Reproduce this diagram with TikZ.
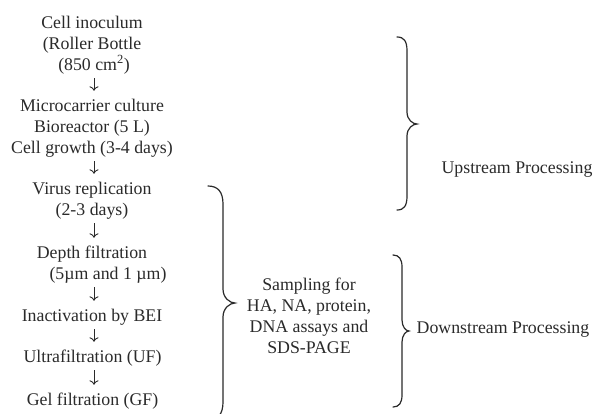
\documentclass[tikz,border=0pt]{standalone}
\usepackage{fontspec}
\setmainfont{Liberation Serif}
\usetikzlibrary{arrows.meta}
\definecolor{ink}{HTML}{2A2A2A}
\begin{document}
\begin{tikzpicture}[x=1pt,y=-1pt,
  txt/.style={font=\fontsize{17.8}{20.8}\selectfont, text=ink, inner sep=0pt, text height=12pt, text depth=4pt, anchor=base},
  arr/.style={draw=ink, line width=0.9pt, -{To[length=4.5pt,width=9pt]}, shorten <=4pt, shorten >=8pt},
  brace/.style={draw=ink, line width=1.2pt, line cap=round}]
\useasboundingbox (0,0) rectangle (599,413);
\fill[white] (0,0) rectangle (599,413);
% left column
\node[txt] (s1a) at (92,28) {Cell inoculum};
\node[txt] (s1b) at (92,49) {(Roller Bottle};
\node[txt] (s1c) at (94,70) {(850 cm\textsuperscript{2})};
\node[txt] (s2a) at (92,111) {Microcarrier culture};
\node[txt] (s2b) at (92,132) {Bioreactor (5 L)};
\node[txt] (s2c) at (92,153) {Cell growth (3-4 days)};
\node[txt] (s3a) at (92,194) {Virus replication};
\node[txt] (s3b) at (92,215) {(2-3 days)};
\node[txt] (s4a) at (92,258) {Depth filtration};
\node[txt] (s4b) at (108,279) {(5µm and 1 µm)};
\node[txt] (s5) at (92,321) {Inactivation by BEI};
\node[txt] (s6) at (92.5,362) {Ultrafiltration (UF)};
\node[txt] (s7) at (92.5,405) {Gel filtration (GF)};
\coordinate (ax) at (94,0);
\draw[arr] (s1c.south -| ax) -- (s2a.north -| ax);
\draw[arr] (s2c.south -| ax) -- (s3a.north -| ax);
\draw[arr] (s3b.south -| ax) -- (s4a.north -| ax);
\draw[arr] (s4b.south -| ax) -- (s5.north -| ax);
\draw[arr] (s5.south -| ax) -- (s6.north -| ax);
\draw[arr] (s6.south -| ax) -- (s7.north -| ax);
% sampling
\node[txt, text height=, text depth=, anchor=base, align=center] (samp) at (309,353) {Sampling for\\HA, NA, protein,\\DNA assays and\\SDS-PAGE};
% labels
\node[txt] (up) at (517,173) {Upstream Processing};
\node[txt] (down) at (503,333) {Downstream Processing};
% braces
\draw[brace] (397,37) .. controls (404,37) and (407,41) .. (407,51) -- (407,112) .. controls (407,120) and (413,124) .. (417,124) .. controls (413,124) and (407,128) .. (407,136) -- (407,196) .. controls (407,206) and (404,210) .. (397,210);
\draw[brace] (208,186) .. controls (218,186) and (223,192) .. (223,204) -- (223,289) .. controls (223,298) and (230,303) .. (235,303) .. controls (230,303) and (223,308) .. (223,317) -- (223,402) .. controls (223,414) and (218,420) .. (208,420);
\draw[brace] (393,255) .. controls (399,255) and (402,259) .. (402,267) -- (402,320) .. controls (402,327) and (406,331) .. (409,331) .. controls (406,331) and (402,335) .. (402,342) -- (402,395) .. controls (402,403) and (399,407) .. (393,407);
\end{tikzpicture}
\end{document}
